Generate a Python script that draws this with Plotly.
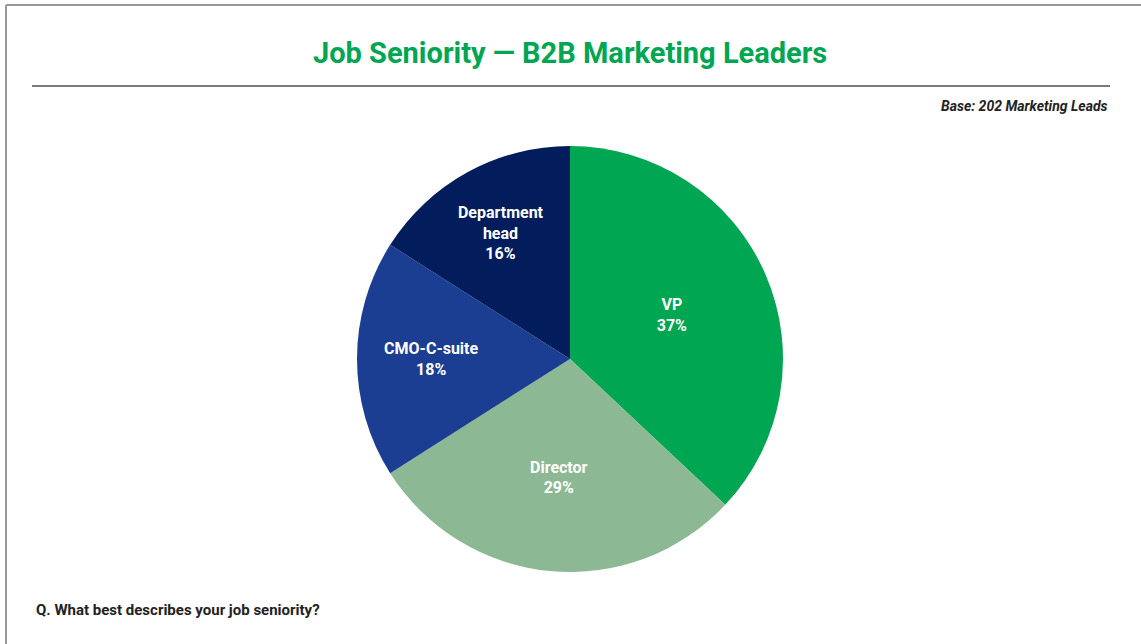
import plotly.graph_objects as go

# Survey data: job seniority of B2B marketing leaders
categories = ["VP", "Director", "CMO-C-suite", "Department<br>head"]
shares = [37, 29, 18, 16]
colors = ["#00A651", "#8DB894", "#1B3D92", "#031D5C"]

W, H = 1141, 644
FONT = "Liberation Sans Narrow, Roboto, Arial, sans-serif"

cx, cy, r = 570, 359, 213

fig = go.Figure(
    go.Pie(
        labels=categories,
        values=shares,
        sort=False,
        direction="clockwise",
        rotation=0,
        marker=dict(colors=colors, line=dict(width=0)),
        texttemplate="<b>%{label}<br>%{value}%</b>",
        textposition="inside",
        insidetextorientation="horizontal",
        textfont=dict(family=FONT, size=16, color="white"),
        hoverinfo="label+percent",
        showlegend=False,
        domain=dict(
            x=[(cx - r) / W, (cx + r) / W],
            y=[1 - (cy + r) / H, 1 - (cy - r) / H],
        ),
    )
)

shapes = [
    # page frame (top and left edges)
    dict(type="line", xref="paper", yref="paper", x0=6 / W, x1=1, y0=1 - 5 / H, y1=1 - 5 / H,
         line=dict(color="#9a9a9a", width=2)),
    dict(type="line", xref="paper", yref="paper", x0=6 / W, x1=6 / W, y0=0, y1=1 - 5 / H,
         line=dict(color="#9a9a9a", width=2)),
    # rule under the title
    dict(type="line", xref="paper", yref="paper", x0=32 / W, x1=1110 / W, y0=1 - 86 / H, y1=1 - 86 / H,
         line=dict(color="#7a7a7a", width=2)),
]

annotations = [
    dict(text="<b>Job Seniority — B2B Marketing Leaders</b>", xref="paper", yref="paper",
         x=570 / W, y=1 - 53 / H, xanchor="center", yanchor="middle", showarrow=False,
         font=dict(family=FONT, size=29, color="#00A651")),
    dict(text="<b><i>Base: 202 Marketing Leads</i></b>", xref="paper", yref="paper",
         x=1110 / W, y=1 - 106 / H, xanchor="right", yanchor="middle", showarrow=False,
         font=dict(family=FONT, size=14, color="#222222")),
    dict(text="<b>Q. What best describes your job seniority?</b>", xref="paper", yref="paper",
         x=34 / W, y=1 - 610 / H, xanchor="left", yanchor="middle", showarrow=False,
         font=dict(family=FONT, size=15, color="#222222")),
]

fig.update_layout(
    width=W,
    height=H,
    margin=dict(l=0, r=0, t=0, b=0),
    paper_bgcolor="white",
    plot_bgcolor="white",
    shapes=shapes,
    annotations=annotations,
)

fig.write_html("out.html")
